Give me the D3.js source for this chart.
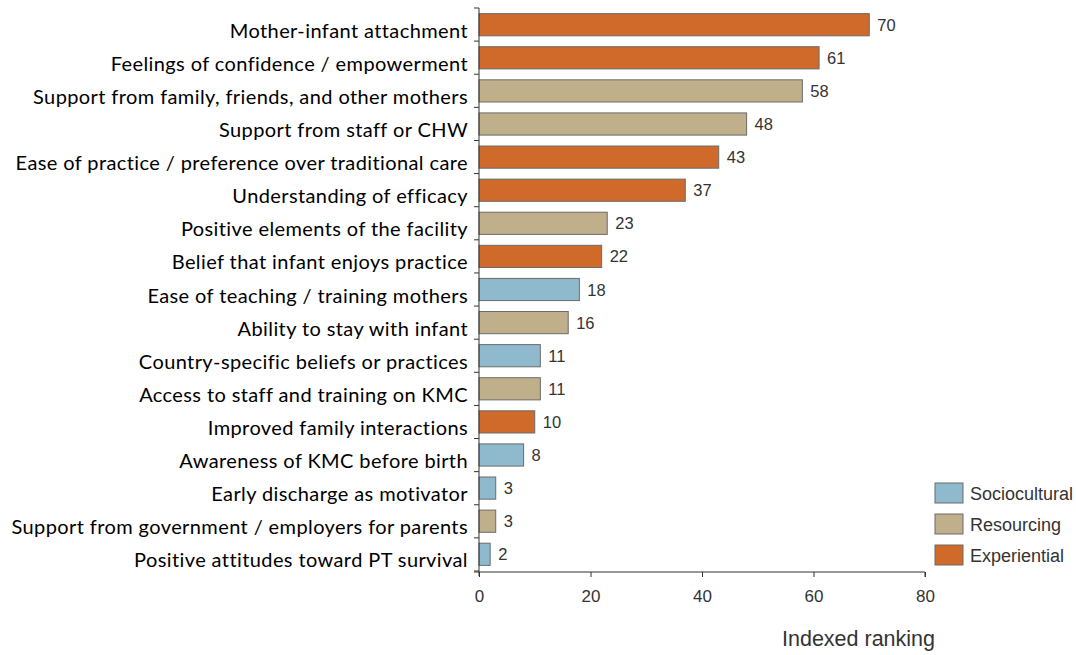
<!DOCTYPE html>
<html>
<head>
<meta charset="utf-8">
<script src="https://cdn.jsdelivr.net/npm/d3@7"></script>
<style>
  body { margin: 0; background: #fff; }
  svg { display: block; }
</style>
</head>
<body>
<svg width="1076" height="655"></svg>
<script>
const categories = [
    "Mother-infant attachment",
    "Feelings of confidence / empowerment",
    "Support from family, friends, and other mothers",
    "Support from staff or CHW",
    "Ease of practice / preference over traditional care",
    "Understanding of efficacy",
    "Positive elements of the facility",
    "Belief that infant enjoys practice",
    "Ease of teaching / training mothers",
    "Ability to stay with infant",
    "Country-specific beliefs or practices",
    "Access to staff and training on KMC",
    "Improved family interactions",
    "Awareness of KMC before birth",
    "Early discharge as motivator",
    "Support from government / employers for parents",
    "Positive attitudes toward PT survival"
];
const values = [70, 61, 58, 48, 43, 37, 23, 22, 18, 16, 11, 11, 10, 8, 3, 3, 2];
const groups = ["E", "E", "R", "R", "E", "E", "R", "E", "S", "R", "S", "R", "E", "S", "S", "R", "S"];
const legendKeys = ["S", "R", "E"];
const legendNames = ["Sociocultural", "Resourcing", "Experiential"];
const xTicks = [0, 20, 40, 60, 80];

const color = d3.scaleOrdinal()
    .domain(legendKeys)
    .range(["#8fbacd", "#bfb08b", "#cf6a2b"]);

const svg = d3.select("svg");
const plotLeft = 479, plotRight = 925, plotTop = 8, plotBottom = 571;
const sans = "Liberation Sans, Arial, sans-serif";

var xScale = d3.scaleLinear().domain([0, 80]).range([plotLeft, plotRight]);
var yScale = d3.scaleBand().domain(categories).range([plotTop, plotBottom]).paddingInner(0.33).paddingOuter(0.17);

// bars
svg.append("g")
    .selectAll("rect")
    .data(categories)
    .enter()
    .append("rect")
    .attr("x", xScale(0))
    .attr("y", d => yScale(d))
    .attr("width", (d, i) => xScale(values[i]) - xScale(0))
    .attr("height", yScale.bandwidth())
    .attr("fill", (d, i) => color(groups[i]))
    .attr("stroke", "#6b6b6b")
    .attr("stroke-width", 1);

// value labels
svg.append("g")
    .selectAll("text")
    .data(categories)
    .enter()
    .append("text")
    .attr("x", (d, i) => xScale(values[i]) + 8)
    .attr("y", d => yScale(d) + yScale.bandwidth() / 2 + 6)
    .attr("font-family", sans)
    .attr("font-size", 16.5)
    .attr("fill", "#333")
    .text((d, i) => values[i]);

// category labels
svg.append("g")
    .selectAll("text")
    .data(categories)
    .enter()
    .append("text")
    .attr("x", plotLeft - 11)
    .attr("y", d => yScale(d) + yScale.bandwidth() / 2 + 13)
    .attr("text-anchor", "end")
    .attr("font-family", "Lato, sans-serif")
    .attr("font-size", 20)
    .attr("letter-spacing", 0.4)
    .attr("fill", "#000")
    .text(d => d);

// y axis with ticks at band boundaries
const yAxisG = svg.append("g");
yAxisG.append("line")
    .attr("x1", plotLeft).attr("x2", plotLeft)
    .attr("y1", plotTop).attr("y2", plotBottom + 5)
    .attr("stroke", "#333");
const bounds = d3.range(categories.length + 1).map(i => plotTop + i * (plotBottom - plotTop) / categories.length);
yAxisG.selectAll("line.tick")
    .data(bounds)
    .enter()
    .append("line")
    .attr("class", "tick")
    .attr("x1", plotLeft - 5).attr("x2", plotLeft)
    .attr("y1", d => d).attr("y2", d => d)
    .attr("stroke", "#333");

// x axis
var xAxis = d3.axisBottom(xScale)
    .tickValues(xTicks)
    .tickSize(5)
    .tickPadding(13);
const xg = svg.append("g")
    .attr("transform", "translate(0," + (plotBottom + 1) + ")")
    .call(xAxis);
xg.attr("font-size", 17).attr("font-family", sans);
xg.select(".domain").attr("stroke", "#333").attr("d", "M" + (plotLeft - 5) + ",0H" + plotRight + "V5");
xg.selectAll(".tick line").attr("stroke", "#333");
xg.selectAll(".tick text").attr("fill", "#333");

svg.append("text")
    .attr("x", 935)
    .attr("y", 646)
    .attr("text-anchor", "end")
    .attr("font-family", sans)
    .attr("font-size", 21.5)
    .attr("fill", "#333")
    .text("Indexed ranking");

// legend
const lg = svg.append("g").attr("transform", "translate(935,483)");
lg.selectAll("rect")
    .data(legendKeys)
    .enter()
    .append("rect")
    .attr("x", 0)
    .attr("y", (d, i) => i * 31)
    .attr("width", 28)
    .attr("height", 20)
    .attr("fill", d => color(d))
    .attr("stroke", "#6b6b6b");
lg.selectAll("text")
    .data(legendNames)
    .enter()
    .append("text")
    .attr("x", 35)
    .attr("y", (d, i) => i * 31 + 17)
    .attr("font-family", sans)
    .attr("font-size", 18)
    .attr("fill", "#333")
    .text(d => d);
</script>
</body>
</html>
